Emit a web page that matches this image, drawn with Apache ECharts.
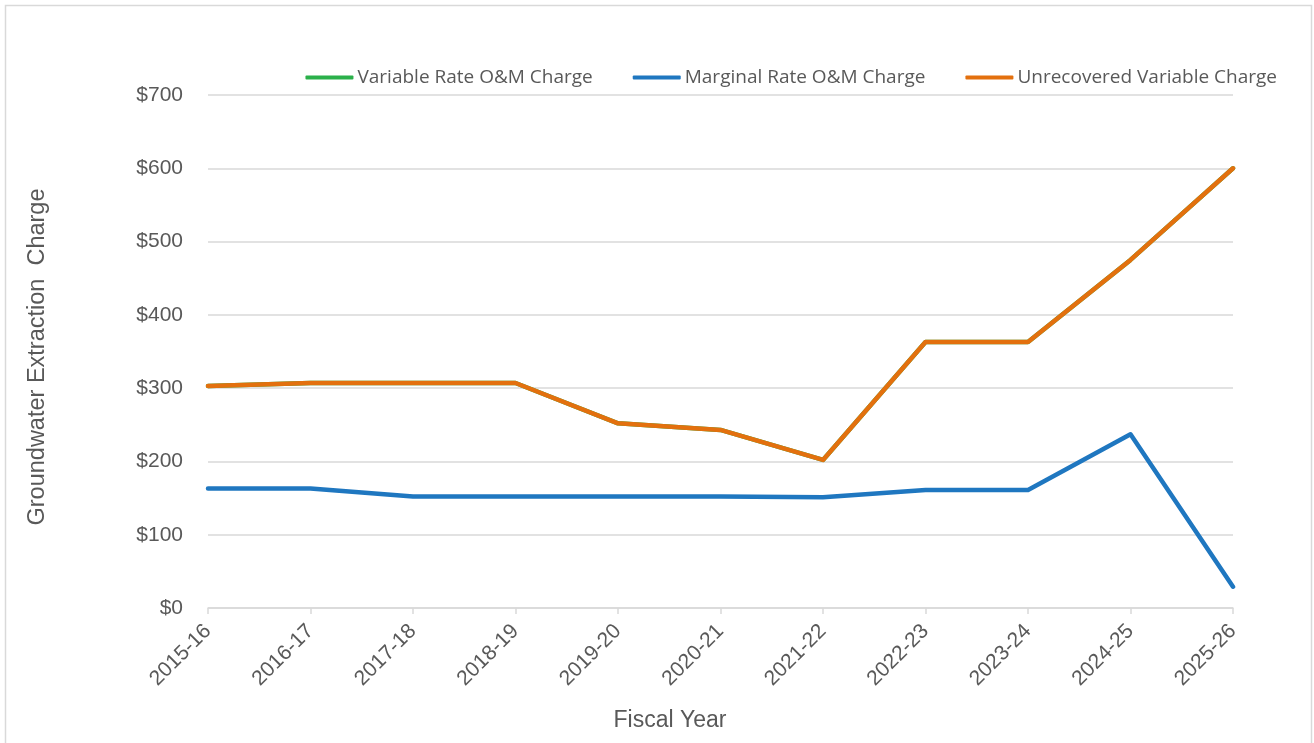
<!DOCTYPE html>
<html>
<head>
<meta charset="utf-8">
<script src="https://cdn.jsdelivr.net/npm/echarts@6/dist/echarts.min.js"></script>
<style>
  html, body { margin: 0; padding: 0; background: #fff; }
  #chart { width: 1314px; height: 743px; }
</style>
</head>
<body>
<div id="chart"></div>
<script>
// fiscal years along the x axis
const fiscalYears = ['2015-16', '2016-17', '2017-18', '2018-19', '2019-20', '2020-21',
  '2021-22', '2022-23', '2023-24', '2024-25', '2025-26'];
// values ($)
const variableRate = [303, 307, 307, 307, 252, 243, 202, 363, 363, 475, 600];
const marginalRate = [163, 163, 152, 152, 152, 152, 151, 161, 161, 237, 29];
const unrecovered = [303, 307, 307, 307, 252, 243, 202, 363, 363, 475, 600];

const textColor = '#595959';
const gridColor = '#d9d9d9';

function lineSeries (name, data, color, z) {
  return {
    name: name,
    type: 'line',
    data: data,
    z: z,
    symbol: 'none',
    lineStyle: { color: color, width: 4.5, cap: 'round', join: 'round' },
    itemStyle: { color: color }
  };
}

const myChart = echarts.init(document.getElementById('chart'));
myChart.setOption({
  animation: false,
  backgroundColor: '#fff',
  textStyle: { fontFamily: 'Liberation Sans, Arial, sans-serif' },
  legend: {
    top: 63,
    right: 32,
    itemWidth: 48,
    itemHeight: 4,
    itemGap: 40,
    icon: 'roundRect',
    textStyle: { fontFamily: 'Open Sans', fontSize: 19, color: textColor, padding: [0, 0, 0, -1] },
    data: ['Variable Rate O&M Charge', 'Marginal Rate O&M Charge', 'Unrecovered Variable Charge']
  },
  grid: { left: 208, right: 81, top: 95, bottom: 135 },
  xAxis: {
    type: 'category',
    data: fiscalYears,
    boundaryGap: false,
    axisLine: { lineStyle: { color: gridColor, width: 1.5 } },
    axisTick: { show: true, length: 6, lineStyle: { color: gridColor, width: 1.5 } },
    axisLabel: { color: textColor, fontSize: 21, rotate: 45, margin: 20, interval: 0 }
  },
  yAxis: {
    type: 'value',
    min: 0,
    max: 700,
    interval: 100,
    axisLine: { show: false },
    axisTick: { show: false },
    splitLine: { lineStyle: { color: gridColor, width: 1.5 } },
    axisLabel: { color: textColor, fontSize: 21, margin: 25, formatter: v => '$' + v }
  },
  graphic: [
    {
      type: 'rect',
      shape: { x: 5.5, y: 5.5, width: 1306, height: 760 },
      style: { fill: 'none', stroke: '#d9d9d9', lineWidth: 1.5 },
      silent: true
    },
    {
      type: 'text',
      x: 670,
      y: 721,
      style: { text: 'Fiscal Year', fill: textColor, font: '23px Liberation Sans', textAlign: 'center', textVerticalAlign: 'middle' }
    },
    {
      type: 'text',
      x: 38,
      y: 357,
      rotation: Math.PI / 2,
      style: { text: 'Groundwater Extraction  Charge', fill: textColor, font: '23.5px Liberation Sans', textAlign: 'center', textVerticalAlign: 'middle' }
    }
  ],
  series: [
    lineSeries('Variable Rate O&M Charge', variableRate, '#2bb04a', 2),
    lineSeries('Marginal Rate O&M Charge', marginalRate, '#1f77c0', 3),
    lineSeries('Unrecovered Variable Charge', unrecovered, '#e3700e', 4)
  ]
});
</script>
</body>
</html>
